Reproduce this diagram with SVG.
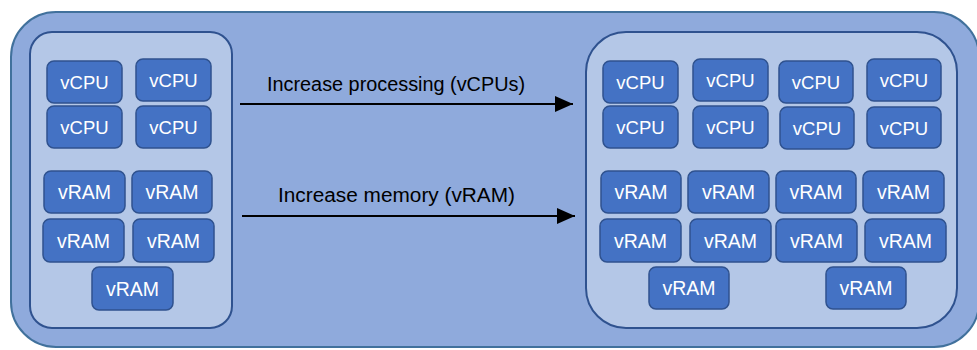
<svg xmlns="http://www.w3.org/2000/svg" width="977" height="350" viewBox="0 0 977 350">
<defs>
<style>
.outer{fill:#8FAADC;stroke:#41719C;stroke-width:2}
.inner{fill:#B4C7E7;stroke:#2F528F;stroke-width:2}
.box{fill:#4472C4;stroke:#2F528F;stroke-width:1.5}
.lbl{font-family:"Liberation Sans",Arial,sans-serif;font-size:18.5px;fill:#FFFFFF;text-anchor:middle}
.ram{font-size:19.5px}
.cap{font-family:"Liberation Sans",Arial,sans-serif;font-size:20px;fill:#000000}
.arr{stroke:#000000;stroke-width:2;fill:none}
</style>
<marker id="ah" viewBox="0 0 10 10" refX="10" refY="5" markerWidth="18" markerHeight="16" markerUnits="userSpaceOnUse" orient="auto" preserveAspectRatio="none">
<path d="M0,0 L10,5 L0,10 Z" fill="#000000"/>
</marker>
</defs>
<g id="host">
<rect class="outer" x="11" y="12" width="968" height="335" rx="45" ry="45"/>
</g>
<g id="vm-small">
<rect class="inner" x="30" y="32" width="202" height="296" rx="22" ry="22"/>
<g id="s-cpu1"><rect class="box" x="47" y="61" width="75" height="42" rx="7"/><text class="lbl" x="84.5" y="89">vCPU</text></g>
<g id="s-cpu2"><rect class="box" x="136" y="59" width="75" height="42" rx="7"/><text class="lbl" x="173.5" y="87">vCPU</text></g>
<g id="s-cpu3"><rect class="box" x="47" y="106" width="75" height="42" rx="7"/><text class="lbl" x="84.5" y="134">vCPU</text></g>
<g id="s-cpu4"><rect class="box" x="136" y="106" width="75" height="42" rx="7"/><text class="lbl" x="173.5" y="134">vCPU</text></g>
<g id="s-ram1"><rect class="box" x="44" y="171" width="81" height="42" rx="7"/><text class="lbl ram" x="84.5" y="199">vRAM</text></g>
<g id="s-ram2"><rect class="box" x="132" y="171" width="80" height="42" rx="7"/><text class="lbl ram" x="172" y="199">vRAM</text></g>
<g id="s-ram3"><rect class="box" x="43" y="219" width="81" height="43" rx="7"/><text class="lbl ram" x="83.5" y="247.5">vRAM</text></g>
<g id="s-ram4"><rect class="box" x="133" y="219" width="81" height="43" rx="7"/><text class="lbl ram" x="173.5" y="247.5">vRAM</text></g>
<g id="s-ram5"><rect class="box" x="92" y="267" width="81" height="43" rx="7"/><text class="lbl ram" x="132.5" y="295.5">vRAM</text></g>
</g>
<g id="vm-large">
<rect class="inner" x="586" y="32" width="371" height="296" rx="40" ry="40"/>
<g id="l-cpu1"><rect class="box" x="603" y="61" width="75" height="42" rx="7"/><text class="lbl" x="640.5" y="89">vCPU</text></g>
<g id="l-cpu2"><rect class="box" x="693" y="59" width="75" height="42" rx="7"/><text class="lbl" x="730.5" y="87">vCPU</text></g>
<g id="l-cpu3"><rect class="box" x="779" y="61" width="74" height="42" rx="7"/><text class="lbl" x="816" y="89">vCPU</text></g>
<g id="l-cpu4"><rect class="box" x="867" y="59" width="74" height="42" rx="7"/><text class="lbl" x="904" y="87">vCPU</text></g>
<g id="l-cpu5"><rect class="box" x="603" y="106" width="75" height="42" rx="7"/><text class="lbl" x="640.5" y="134">vCPU</text></g>
<g id="l-cpu6"><rect class="box" x="693" y="106" width="75" height="42" rx="7"/><text class="lbl" x="730.5" y="134">vCPU</text></g>
<g id="l-cpu7"><rect class="box" x="780" y="107" width="74" height="42" rx="7"/><text class="lbl" x="817" y="135">vCPU</text></g>
<g id="l-cpu8"><rect class="box" x="867" y="107" width="74" height="41" rx="7"/><text class="lbl" x="904" y="134.5">vCPU</text></g>
<g id="l-ram1"><rect class="box" x="601" y="171" width="80" height="42" rx="7"/><text class="lbl ram" x="641" y="199">vRAM</text></g>
<g id="l-ram2"><rect class="box" x="688" y="171" width="81" height="42" rx="7"/><text class="lbl ram" x="728.5" y="199">vRAM</text></g>
<g id="l-ram3"><rect class="box" x="776" y="171" width="80" height="42" rx="7"/><text class="lbl ram" x="816" y="199">vRAM</text></g>
<g id="l-ram4"><rect class="box" x="863" y="171" width="81" height="42" rx="7"/><text class="lbl ram" x="903.5" y="199">vRAM</text></g>
<g id="l-ram5"><rect class="box" x="600" y="219" width="81" height="43" rx="7"/><text class="lbl ram" x="640.5" y="247.5">vRAM</text></g>
<g id="l-ram6"><rect class="box" x="690" y="219" width="81" height="43" rx="7"/><text class="lbl ram" x="730.5" y="247.5">vRAM</text></g>
<g id="l-ram7"><rect class="box" x="776" y="219" width="81" height="43" rx="7"/><text class="lbl ram" x="816.5" y="247.5">vRAM</text></g>
<g id="l-ram8"><rect class="box" x="865" y="219" width="81" height="43" rx="7"/><text class="lbl ram" x="905.5" y="247.5">vRAM</text></g>
<g id="l-ram9"><rect class="box" x="649" y="267" width="80" height="42" rx="7"/><text class="lbl ram" x="689" y="295">vRAM</text></g>
<g id="l-ram10"><rect class="box" x="826" y="267" width="80" height="42" rx="7"/><text class="lbl ram" x="866" y="295">vRAM</text></g>
</g>
<g id="connectors">
<line class="arr" x1="240" y1="104" x2="573" y2="104" marker-end="url(#ah)"/>
<text class="cap" x="267" y="91" textLength="258" lengthAdjust="spacingAndGlyphs">Increase processing (vCPUs)</text>
<line class="arr" x1="242" y1="216" x2="575" y2="216" marker-end="url(#ah)"/>
<text class="cap" x="278" y="202" textLength="237" lengthAdjust="spacingAndGlyphs">Increase memory (vRAM)</text>
</g>
</svg>
